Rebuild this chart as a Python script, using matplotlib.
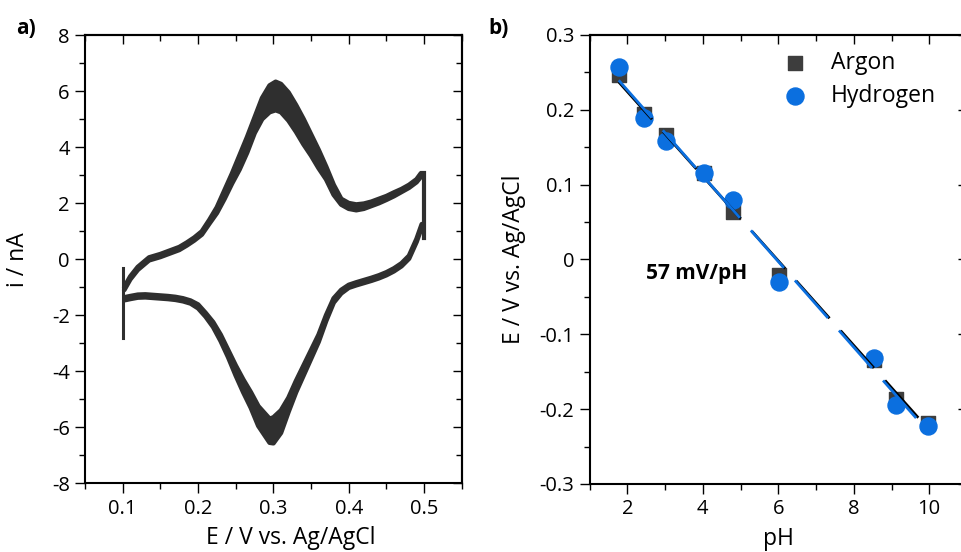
import matplotlib
matplotlib.use('Agg')
import matplotlib.pyplot as plt
from matplotlib.ticker import MultipleLocator, FuncFormatter
import numpy as np

plt.rcParams['font.family'] = ['Open Sans', 'DejaVu Sans']
plt.rcParams['axes.unicode_minus'] = False

# cyclic voltammogram, anodic sweep 0.1 -> 0.5 V (upper / lower edge of the cycle band)
anodic_E = [0.102, 0.110, 0.120, 0.135, 0.150, 0.160, 0.175, 0.185, 0.195, 0.205,
            0.215, 0.225, 0.235, 0.245, 0.255, 0.265, 0.275, 0.285, 0.295, 0.303,
            0.310, 0.320, 0.330, 0.340, 0.350, 0.360, 0.370, 0.380, 0.390, 0.400,
            0.410, 0.420, 0.430, 0.440, 0.450, 0.460, 0.470, 0.480, 0.490, 0.496]
anodic_hi = [-1.00, -0.62, -0.28, 0.06, 0.18, 0.28, 0.43, 0.59, 0.77, 0.99,
             1.40, 1.85, 2.45, 3.05, 3.70, 4.35, 5.05, 5.75, 6.20, 6.33,
             6.25, 5.95, 5.50, 5.00, 4.45, 3.90, 3.30, 2.65, 2.15, 2.00,
             1.95, 1.98, 2.05, 2.15, 2.25, 2.38, 2.50, 2.65, 2.85, 3.07]
anodic_lo = [-1.10, -0.72, -0.38, -0.04, 0.08, 0.18, 0.33, 0.49, 0.67, 0.88,
             1.27, 1.65, 2.15, 2.70, 3.20, 3.80, 4.50, 5.00, 5.25, 5.32,
             5.25, 4.95, 4.55, 4.10, 3.70, 3.25, 2.85, 2.30, 1.95, 1.80,
             1.75, 1.80, 1.90, 2.00, 2.12, 2.25, 2.40, 2.55, 2.75, 2.95]

# cathodic sweep 0.5 -> 0.1 V
cath_E = [0.497, 0.490, 0.480, 0.470, 0.460, 0.450, 0.440, 0.430, 0.420, 0.410,
          0.400, 0.390, 0.380, 0.370, 0.360, 0.350, 0.340, 0.330, 0.320, 0.310,
          0.300, 0.295, 0.290, 0.280, 0.270, 0.260, 0.250, 0.240, 0.230, 0.220,
          0.210, 0.200, 0.190, 0.180, 0.170, 0.160, 0.150, 0.140, 0.130, 0.120,
          0.110, 0.103]
cath_lo = [1.15, 0.62, 0.02, -0.25, -0.43, -0.57, -0.68, -0.77, -0.85, -0.93,
           -1.02, -1.22, -1.55, -2.20, -2.95, -3.55, -4.15, -4.75, -5.45, -6.20,
           -6.57, -6.55, -6.35, -5.95, -5.30, -4.75, -4.15, -3.50, -2.92, -2.42,
           -2.05, -1.75, -1.58, -1.50, -1.45, -1.42, -1.40, -1.38, -1.36, -1.37,
           -1.42, -1.46]
cath_hi = [1.25, 0.72, 0.12, -0.15, -0.33, -0.47, -0.58, -0.67, -0.75, -0.83,
           -0.92, -1.10, -1.40, -2.00, -2.70, -3.25, -3.80, -4.35, -4.95, -5.40,
           -5.65, -5.70, -5.55, -5.25, -4.75, -4.30, -3.80, -3.25, -2.70, -2.25,
           -1.92, -1.62, -1.48, -1.40, -1.35, -1.32, -1.30, -1.28, -1.26, -1.27,
           -1.32, -1.36]

# switching spikes at the vertex potentials
spike_low_E, spike_low_i = [0.100, 0.100], [-2.82, -0.33]
spike_high_E, spike_high_i = [0.500, 0.500], [0.75, 3.07]

# formal potential vs. pH
ph = [1.77, 2.44, 3.01, 4.02, 4.79, 6.03, 8.53, 9.11, 9.96]
E_argon = [0.247, 0.195, 0.166, 0.116, 0.064, -0.021, -0.134, -0.186, -0.218]
E_hydrogen = [0.257, 0.189, 0.159, 0.116, 0.080, -0.030, -0.131, -0.194, -0.222]

cv_color = '#2f2f2f'
ar_color = '#3d3d3d'
h2_color = '#0b6fdf'

plain = FuncFormatter(lambda v, pos: f'{round(v, 6) + 0.0:g}')


def mirror_ticks(ax, xmaj, xmin, ymaj, ymin):
    ax.xaxis.set_major_locator(MultipleLocator(xmaj))
    ax.xaxis.set_minor_locator(MultipleLocator(xmin))
    ax.yaxis.set_major_locator(MultipleLocator(ymaj))
    ax.yaxis.set_minor_locator(MultipleLocator(ymin))
    ax.xaxis.set_major_formatter(plain)
    ax.yaxis.set_major_formatter(plain)
    ax.tick_params(which='major', direction='out', length=7, width=1.0, labelsize=14.5, pad=4)
    ax.tick_params(which='minor', direction='out', length=4, width=1.0)
    top = ax.secondary_xaxis('top')
    right = ax.secondary_yaxis('right')
    for sec, axis in ((top, top.xaxis), (right, right.yaxis)):
        axis.set_major_locator(MultipleLocator(xmaj if sec is top else ymaj))
        axis.set_minor_locator(MultipleLocator(xmin if sec is top else ymin))
        sec.tick_params(which='major', direction='in', length=6.5, width=1.0)
        sec.tick_params(which='minor', direction='in', length=4, width=1.0)
        sec.tick_params(labeltop=False, labelright=False)
        for s in sec.spines.values():
            s.set_linewidth(1.5)
    for s in ax.spines.values():
        s.set_linewidth(1.5)


fig = plt.figure(figsize=(9.61, 5.52), dpi=100)

# a) cyclic voltammograms
ax1 = fig.add_axes([0.0885, 0.1245, 0.392, 0.812])
ax1.fill_between(anodic_E, anodic_lo, anodic_hi, color=cv_color, lw=0)
ax1.fill_between(cath_E, cath_lo, cath_hi, color=cv_color, lw=0)
for e, i in ((anodic_E, anodic_hi), (anodic_E, anodic_lo), (cath_E, cath_hi), (cath_E, cath_lo)):
    ax1.plot(e, i, color=cv_color, lw=3.4, solid_capstyle='round', solid_joinstyle='round')
ax1.plot(spike_low_E, spike_low_i, color=cv_color, lw=2.2)
ax1.plot(spike_high_E, spike_high_i, color=cv_color, lw=3.0)
ax1.set_xlim(0.05, 0.55)
ax1.set_ylim(-8, 8)
mirror_ticks(ax1, 0.1, 0.05, 2, 1)
ax1.set_xlabel('E / V vs. Ag/AgCl', fontsize=16.5)
ax1.xaxis.set_label_coords(0.545, -0.095)
ax1.set_ylabel('i / nA', fontsize=16.5)
ax1.yaxis.set_label_coords(-0.145, 0.5)
fig.text(0.017, 0.968, 'a)', fontsize=15, fontweight='bold', va='top')

# b) potential vs. pH under argon and hydrogen, with linear fits
ax2 = fig.add_axes([0.6136, 0.1232, 0.3926, 0.8134])
ph_fit = np.array([min(ph), max(ph)])
ar_fit = np.polyval(np.polyfit(ph, E_argon, 1), ph_fit)
h2_fit = np.polyval(np.polyfit(ph, E_hydrogen, 1), ph_fit)
ax2.scatter(ph, E_argon, marker='s', s=110, color=ar_color, zorder=2, label='Argon')
ax2.scatter(ph, E_hydrogen, marker='o', s=150, color=h2_color, zorder=3, label='Hydrogen')
ax2.plot(ph_fit, ar_fit, color='black', lw=2.0, dashes=(18, 6), zorder=4)
ax2.plot(ph_fit, h2_fit, color=h2_color, lw=2.0, dashes=(18, 6), zorder=5)
ax2.text(2.5, -0.019, '57 mV/pH', fontsize=15, fontweight='bold', va='center')
ax2.set_xlim(1, 11)
ax2.set_ylim(-0.3, 0.3)
mirror_ticks(ax2, 2, 1, 0.1, 0.05)
ax2.set_xlabel('pH', fontsize=16.5)
ax2.xaxis.set_label_coords(0.5, -0.095)
ax2.set_ylabel('E / V vs. Ag/AgCl', fontsize=16.5)
ax2.yaxis.set_label_coords(-0.17, 0.5)
ax2.legend(loc='upper left', bbox_to_anchor=(0.46, 0.985), frameon=False, fontsize=16.5,
           handletextpad=0.55, labelspacing=0.4, borderaxespad=0)
fig.text(0.508, 0.968, 'b)', fontsize=15, fontweight='bold', va='top')

fig.savefig('out.png', dpi=100)
